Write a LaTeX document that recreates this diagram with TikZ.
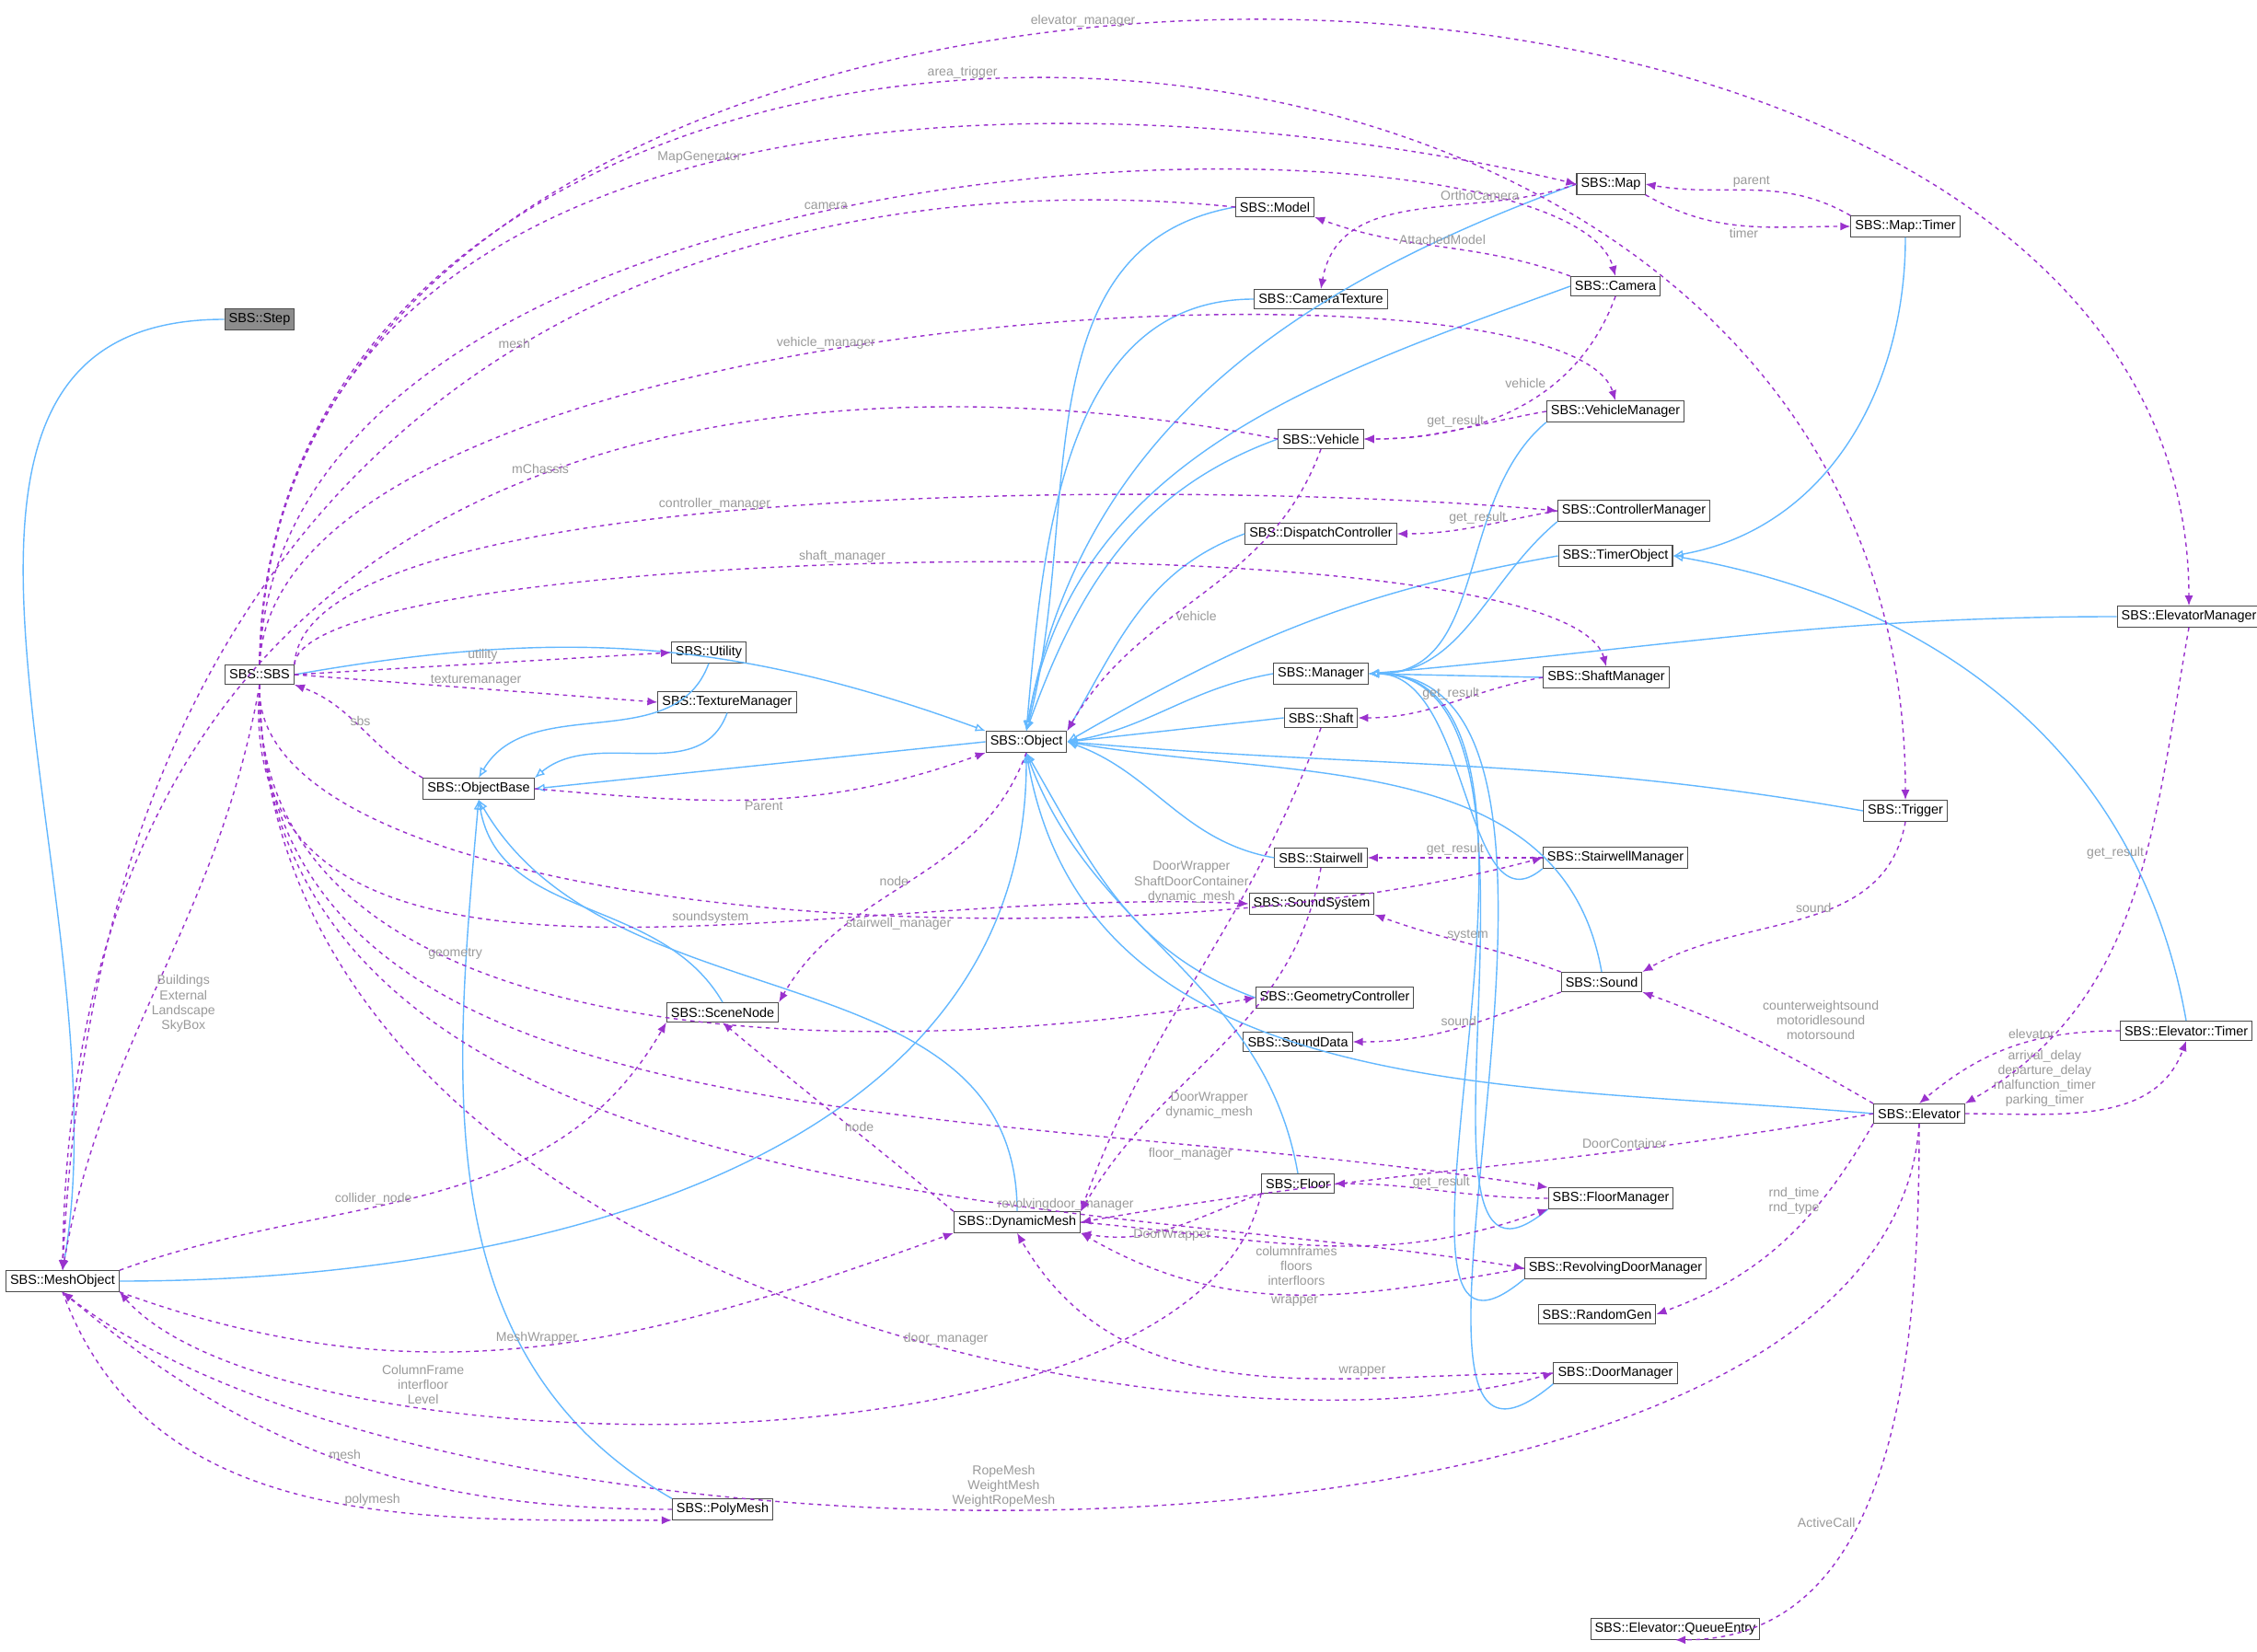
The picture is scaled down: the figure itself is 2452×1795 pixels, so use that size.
\documentclass[tikz,border=0pt]{standalone}
\usepackage{fontspec}
\setmainfont{Liberation Sans}
\usetikzlibrary{arrows.meta}
\definecolor{inhc}{HTML}{63B8FF}
\definecolor{usec}{HTML}{9A32CD}
\definecolor{labc}{HTML}{9A9A9A}
\begin{document}
\begin{tikzpicture}[x=0.01cm,y=-0.01cm,
 box/.style={draw=black!70,fill=white,font=\fontsize{4.1}{5}\selectfont,inner sep=1.3pt,minimum height=0.21cm,line width=0.3pt},
 inh/.style={draw=inhc,line width=0.4pt,-{Latex[open,length=0.11cm,width=0.09cm]}},
 use/.style={draw=usec,line width=0.4pt,dashed,dash pattern=on 1.3pt off 1.3pt,-{Latex[length=0.11cm,width=0.09cm]}},
 lab/.style={font=\fontsize{4}{4.6}\selectfont,text=labc,align=center,inner sep=0.5pt}]
\useasboundingbox (0,0) rectangle (2452,1795);
\fill[white] (0,0) rectangle (2452,1795);
% nodes
\node[box,fill=black!45] (step) at (282,347) {SBS::Step};
\node[box] (sbs) at (282,733) {SBS::SBS};
\node[box] (mesh) at (68,1392) {SBS::MeshObject};
\node[box] (model) at (1385,225) {SBS::Model};
\node[box] (map) at (1750,200) {SBS::Map};
\node[box] (maptimer) at (2070,246) {SBS::Map::Timer};
\node[box] (camtex) at (1435,325) {SBS::CameraTexture};
\node[box] (camera) at (1755,311) {SBS::Camera};
\node[box] (vehmgr) at (1755,447) {SBS::VehicleManager};
\node[box] (vehicle) at (1435,477) {SBS::Vehicle};
\node[box] (ctrlmgr) at (1775,555) {SBS::ControllerManager};
\node[box] (dispatch) at (1435,580) {SBS::DispatchController};
\node[box] (timerobj) at (1755,604) {SBS::TimerObject};
\node[box] (elevmgr) at (2378,670) {SBS::ElevatorManager};
\node[box] (utility) at (770,709) {SBS::Utility};
\node[box] (texmgr) at (790,763) {SBS::TextureManager};
\node[box] (manager) at (1435,732) {SBS::Manager};
\node[box] (shaftmgr) at (1745,736) {SBS::ShaftManager};
\node[box] (shaft) at (1435,780) {SBS::Shaft};
\node[box] (objbase) at (520,857) {SBS::ObjectBase};
\node[box] (object) at (1115,806) {SBS::Object};
\node[box] (trigger) at (2070,881) {SBS::Trigger};
\node[box] (stairwell) at (1435,932) {SBS::Stairwell};
\node[box] (stairmgr) at (1755,932) {SBS::StairwellManager};
\node[box] (soundsys) at (1425,982) {SBS::SoundSystem};
\node[box] (scenenode) at (785,1100) {SBS::SceneNode};
\node[box] (geom) at (1450,1084) {SBS::GeometryController};
\node[box] (sound) at (1740,1067) {SBS::Sound};
\node[box] (sounddata) at (1410,1132) {SBS::SoundData};
\node[box] (elevtimer) at (2375,1120) {SBS::Elevator::Timer};
\node[box] (elevator) at (2085,1210) {SBS::Elevator};
\node[box] (floor) at (1410,1286) {SBS::Floor};
\node[box] (floormgr) at (1750,1302) {SBS::FloorManager};
\node[box] (dynmesh) at (1105,1328) {SBS::DynamicMesh};
\node[box] (revmgr) at (1755,1378) {SBS::RevolvingDoorManager};
\node[box] (randgen) at (1735,1428) {SBS::RandomGen};
\node[box] (doormgr) at (1755,1492) {SBS::DoorManager};
\node[box] (polymesh) at (785,1640) {SBS::PolyMesh};
\node[box] (queue) at (1820,1770) {SBS::Elevator::QueueEntry};
% inheritance
\draw[inh] (step.west) to[out=180,in=80] (mesh.north);
\draw[inh] (sbs.east) to[out=10,in=160] (object.north west);
\draw[inh] (model.west) to[out=190,in=75] (object.north);
\draw[inh] (map.west) to[out=200,in=80] (object.north);
\draw[inh] (camtex.west) to[out=180,in=85] (object.north);
\draw[inh] (camera.west) to[out=200,in=80] (object.north);
\draw[inh] (vehicle.west) to[out=200,in=70] (object.north);
\draw[inh] (dispatch.west) to[out=200,in=60] (object.north east);
\draw[inh] (timerobj.west) to[out=190,in=30] (object.east);
\draw[inh] (manager.west) to[out=190,in=10] (object.east);
\draw[inh] (shaft.west) to (object.east);
\draw[inh] (stairwell.west) to[out=170,in=-20] (object.east);
\draw[inh] (sound.north) to[out=100,in=-10] (object.east);
\draw[inh] (geom.west) to[out=160,in=-60] (object.south);
\draw[inh] (floor.north) to[out=100,in=-70] (object.south);
\draw[inh] (trigger.west) to[out=170,in=-5] (object.east);
\draw[inh] (elevator.west) to[out=175,in=-80] (object.south);
\draw[inh] (mesh.east) to[out=0,in=-90] (object.south);
\draw[inh] (dynmesh.north) to[out=90,in=-60] (objbase.south);
\draw[inh] (object.west) to (objbase.east);
\draw[inh] (utility.south) to[out=-110,in=60] (objbase.north);
\draw[inh] (texmgr.south) to[out=-110,in=40] (objbase.north east);
\draw[inh] (scenenode.north) to[out=120,in=-80] (objbase.south);
\draw[inh] (polymesh.north west) to[out=150,in=-95] (objbase.south);
\foreach \m in {vehmgr,ctrlmgr,stairmgr,floormgr,revmgr,doormgr}
  \draw[inh] (\m.south west) to[out=220,in=0] (manager.east);
\draw[inh] (shaftmgr.west) to (manager.east);
\draw[inh] (elevmgr.west) to[out=180,in=5] (manager.east);
\draw[inh] (maptimer.south) to[out=-90,in=10] (timerobj.east);
\draw[inh] (elevtimer.north) to[out=100,in=-10] (timerobj.east);
% usage
\draw[use] (sbs.north) .. controls (290,-200) and (2378,-200) .. node[lab,pos=.45,above]{elevator\_manager} (elevmgr.north);
\draw[use] (sbs.north) .. controls (290,-150) and (2070,-150) .. node[lab,pos=.45,above]{area\_trigger} (trigger.north);
\draw[use] (sbs.north) .. controls (300,20) and (1300,100) .. node[lab,pos=.45,above]{MapGenerator} (map.west);
\draw[use] (sbs.north) .. controls (300,120) and (1700,100) .. node[lab,pos=.45,above]{camera} (camera.north);
\draw[use] (sbs.north) .. controls (300,330) and (1700,260) .. node[lab,pos=.45,above]{vehicle\_manager} (vehmgr.north);
\draw[use] (sbs.north east) .. controls (330,520) and (1300,520) .. node[lab,pos=.45,above]{controller\_manager} (ctrlmgr.west);
\draw[use] (sbs.north east) .. controls (330,590) and (1700,560) .. node[lab,pos=.45,above]{shaft\_manager} (shaftmgr.north);
\draw[use] (sbs.east) to node[lab,pos=.5,above]{utility} (utility.west);
\draw[use] (sbs.east) to node[lab,pos=.5,above]{texturemanager} (texmgr.west);
\draw[use] (sbs.south) .. controls (250,1150) and (900,960) .. node[lab,pos=.6,above]{soundsystem} (soundsys.west);
\draw[use] (sbs.south) .. controls (270,1000) and (1200,1060) .. node[lab,pos=.6,below]{stairwell\_manager} (stairmgr.west);
\draw[use] (sbs.south) .. controls (270,1170) and (1000,1150) .. node[lab,pos=.35,above]{geometry} (geom.west);
\draw[use] (sbs.south) .. controls (280,1260) and (1050,1190) .. node[lab,pos=.8,below]{floor\_manager} (floormgr.north west);
\draw[use] (sbs.south) .. controls (280,1330) and (1200,1300) .. node[lab,pos=.7,above]{revolvingdoor\_manager} (revmgr.west);
\draw[use] (sbs.south) .. controls (290,1400) and (1300,1600) .. node[lab,pos=.6,above]{door\_manager} (doormgr.west);
\draw[use] (sbs.south) to[out=-100,in=80] node[lab,pos=.55,right]{Buildings\\External\\Landscape\\SkyBox} (mesh.north);
\draw[use] (model.west) .. controls (900,180) and (120,300) .. node[lab,pos=.5,above]{mesh} (mesh.north);
\draw[use] (vehicle.west) .. controls (1000,400) and (80,360) .. node[lab,pos=.5,above]{mChassis} (mesh.north);
\draw[use] (objbase.north west) to[out=150,in=-20] node[lab,pos=.5,above]{sbs} (sbs.south east);
\draw[use] (objbase.east) to[out=-5,in=-160] node[lab,pos=.5,below]{Parent} (object.south west);
\draw[use] (object.south) to[out=-110,in=60] node[lab,pos=.5,left]{node} (scenenode.north east);
\draw[use] (map.west) to[out=200,in=80] node[lab,pos=.3,above]{OrthoCamera} (camtex.north);
\draw[use] (map.south east) to[out=-30,in=180] node[lab,pos=.5,below]{timer} (maptimer.west);
\draw[use] (maptimer.north west) to[out=150,in=-10] node[lab,pos=.5,above]{parent} (map.east);
\draw[use] (camera.north west) to[out=160,in=-20] node[lab,pos=.5,above]{AttachedModel} (model.south east);
\draw[use] (camera.south) to[out=-110,in=0] node[lab,pos=.35,left=2pt]{vehicle} (vehicle.east);
\draw[use] (vehmgr.west) to[out=190,in=0] node[lab,pos=.5,above]{get\_result} (vehicle.east);
\draw[use] (ctrlmgr.west) to[out=190,in=0] node[lab,pos=.5,above]{get\_result} (dispatch.east);
\draw[use] (vehicle.south) to[out=-110,in=60] node[lab,pos=.6,right]{vehicle} (object.north east);
\draw[use] (shaftmgr.west) to[out=190,in=0] node[lab,pos=.5,above]{get\_result} (shaft.east);
\draw[use] (shaft.south) to[out=-110,in=70] node[lab,pos=.3,left]{DoorWrapper\\ShaftDoorContainer\\dynamic\_mesh} (dynmesh.north east);
\draw[use] (stairmgr.west) to node[lab,pos=.5,above]{get\_result} (stairwell.east);
\draw[use] (stairwell.south) to[out=-100,in=60] node[lab,pos=.7,right]{DoorWrapper\\dynamic\_mesh} (dynmesh.north east);
\draw[use] (sound.north west) to[out=160,in=-20] node[lab,pos=.5,above]{system} (soundsys.south east);
\draw[use] (sound.south west) to[out=200,in=0] node[lab,pos=.5,above]{sound} (sounddata.east);
\draw[use] (trigger.south) to[out=-100,in=30] node[lab,pos=.4,left]{sound} (sound.north east);
\draw[use] (elevator.north west) to[out=150,in=-20] node[lab,pos=.5,above right]{counterweightsound\\motoridlesound\\motorsound} (sound.south east);
\draw[use] (elevtimer.west) to[out=180,in=40] node[lab,pos=.4,above]{elevator} (elevator.north);
\draw[use] (elevator.east) to[out=0,in=-110] node[lab,pos=.5,above left]{arrival\_delay\\departure\_delay\\malfunction\_timer\\parking\_timer} (elevtimer.south);
\draw[use] (elevmgr.south) to[out=-100,in=30] node[lab,pos=.4,left]{get\_result} (elevator.north east);
\draw[use] (elevator.west) to[out=190,in=10] node[lab,pos=.3,above]{DoorContainer} (dynmesh.east);
\draw[use] (elevator.south west) to[out=-120,in=20] node[lab,pos=.3,left]{rnd\_time\\rnd\_type} (randgen.east);
\draw[use] (elevator.south) .. controls (2050,1750) and (500,1740) .. node[lab,pos=.55,above]{RopeMesh\\WeightMesh\\WeightRopeMesh} (mesh.south);
\draw[use] (elevator.south) to[out=-90,in=0] node[lab,pos=.6,left]{ActiveCall} (queue.south);
\draw[use] (floormgr.west) to[out=180,in=0] node[lab,pos=.5,above]{get\_result} (floor.east);
\draw[use] (floor.south west) to[out=200,in=-10] node[lab,pos=.5,below]{DoorWrapper} (dynmesh.south east);
\draw[use] (floor.south west) .. controls (1300,1620) and (300,1600) .. node[lab,pos=.7,above]{ColumnFrame\\interfloor\\Level} (mesh.south east);
\draw[use] (dynmesh.east) to[out=-5,in=200] node[lab,pos=.45,below]{columnframes\\floors\\interfloors} (floormgr.south west);
\draw[use] (revmgr.west) to[out=190,in=-30] node[lab,pos=.5,below]{wrapper} (dynmesh.south east);
\draw[use] (doormgr.west) to[out=180,in=-60] node[lab,pos=.3,above]{wrapper} (dynmesh.south);
\draw[use] (dynmesh.north west) to[out=140,in=-40] node[lab,pos=.4,above]{node} (scenenode.south);
\draw[use] (mesh.north east) to[out=20,in=-120] node[lab,pos=.4,above]{collider\_node} (scenenode.south west);
\draw[use] (mesh.south east) to[out=-20,in=-160] node[lab,pos=.5,above]{MeshWrapper} (dynmesh.south west);
\draw[use] (polymesh.west) to[out=180,in=-40] node[lab,pos=.5,above]{mesh} (mesh.south);
\draw[use] (mesh.south) to[out=-70,in=180] node[lab,pos=.6,above]{polymesh} (polymesh.south west);
\end{tikzpicture}
\end{document}
